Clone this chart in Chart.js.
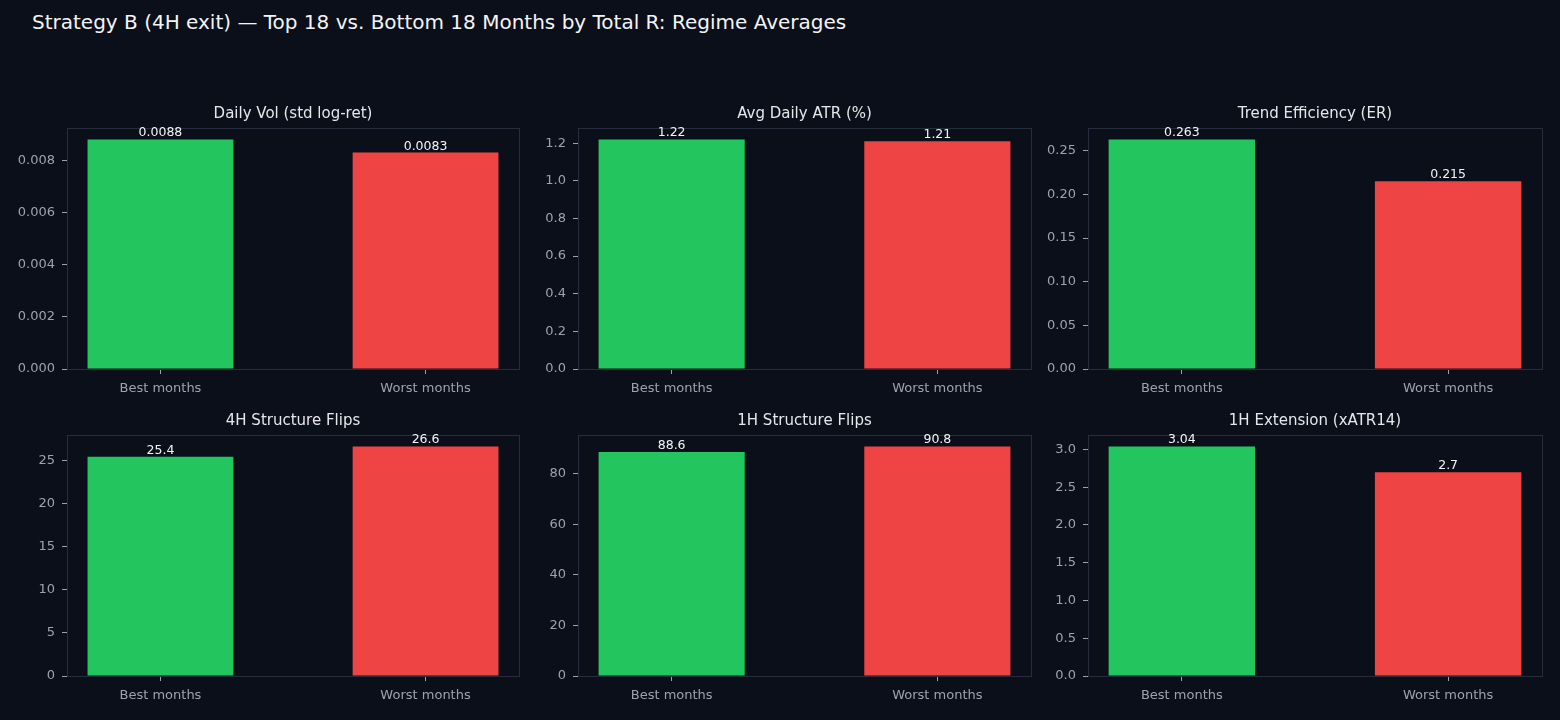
<!DOCTYPE html>
<html>
<head>
<meta charset="utf-8">
<script src="https://cdn.jsdelivr.net/npm/chart.js@4.4.1/dist/chart.umd.min.js"></script>
<style>
  body { margin: 0; background: #0b0f19; width: 1560px; height: 720px; overflow: hidden; position: relative; font-family: "DejaVu Sans", sans-serif; }
  #title { position: absolute; left: 32px; top: 10px; color: #f3f4f6; font-size: 20px; white-space: nowrap; }
  .panel { position: absolute; }
</style>
</head>
<body>
<div id="title">Strategy B (4H exit) — Top 18 vs. Bottom 18 Months by Total R: Regime Averages</div>
<script>
// data
const categories = ["Best months", "Worst months"]
const barColors = ["#22c55e", "#ef4444"]

const volValues = [0.0088, 0.0083]
const atrValues = [1.22, 1.21]
const erValues = [0.263, 0.215]
const flips4hValues = [25.4, 26.6]
const flips1hValues = [88.6, 90.8]
const extValues = [3.04, 2.7]

const volTicks = [0, 0.002, 0.004, 0.006, 0.008]
const atrTicks = [0, 0.2, 0.4, 0.6, 0.8, 1.0, 1.2]
const erTicks = [0, 0.05, 0.10, 0.15, 0.20, 0.25]
const flips4hTicks = [0, 5, 10, 15, 20, 25]
const flips1hTicks = [0, 20, 40, 60, 80]
const extTicks = [0, 0.5, 1.0, 1.5, 2.0, 2.5, 3.0]

const panelTitles = ["Daily Vol (std log-ret)", "Avg Daily ATR (%)", "Trend Efficiency (ER)",
    "4H Structure Flips", "1H Structure Flips", "1H Extension (xATR14)"]

Chart.defaults.font.family = '"DejaVu Sans", sans-serif'

// frame round the plot area + value labels on bars
const framePlugin = {
    id: 'frame',
    afterDatasetsDraw(chart) {
        const a = chart.chartArea, ctx = chart.ctx
        ctx.save()
        ctx.strokeStyle = '#262d3c'
        ctx.lineWidth = 1
        ctx.strokeRect(Math.round(a.left) + 0.5, Math.round(a.top) + 0.5, Math.round(a.right - a.left), Math.round(a.bottom - a.top))
        ctx.fillStyle = '#f3f4f6'
        ctx.font = '12.5px "DejaVu Sans"'
        ctx.textAlign = 'center'
        ctx.textBaseline = 'bottom'
        const meta = chart.getDatasetMeta(0)
        const vals = chart.data.datasets[0].data
        meta.data.forEach((bar, i) => {
            ctx.fillText(String(vals[i].y), bar.x, bar.y)
        })
        ctx.restore()
    }
}

function makePanel(box, title, values, ticks, decimals) {
    const [L, T, R, B] = box
    const div = document.createElement("div")
    div.className = "panel"
    div.style.left = (L - 70) + "px"
    div.style.top = (T - 40) + "px"
    const c = document.createElement("canvas")
    c.width = (R - L) + 80
    c.height = (B - T) + 70
    div.appendChild(c)
    document.body.appendChild(div)

    const ymax = Math.max(...values) * 1.05
    new Chart(c, {
        type: 'bar',
        data: {
            datasets: [{
                data: values.map((v, i) => ({ x: i, y: v })),
                backgroundColor: barColors,
                barPercentage: 0.55,
                categoryPercentage: 1
            }]
        },
        options: {
            responsive: false,
            animation: false,
            layout: { padding: { left: 0, right: 10, top: 0, bottom: 0 } },
            plugins: {
                legend: { display: false },
                tooltip: { enabled: false },
                title: {
                    display: true, text: title, color: '#e5e7eb', fullSize: false,
                    font: { size: 15, weight: 'normal' },
                    padding: { top: 17, bottom: 5 }
                }
            },
            scales: {
                x: {
                    type: 'linear', min: -0.3525, max: 1.3525, offset: false,
                    afterBuildTicks: s => { s.ticks = categories.map((_, i) => ({ value: i })) },
                    afterFit: s => { s.height = 30 },
                    ticks: { color: '#9ca3af', font: { size: 13 }, padding: 7, maxRotation: 0,
                        callback: v => categories[v] },
                    grid: { offset: false, drawOnChartArea: false, drawTicks: true, tickLength: 5, tickColor: '#9ca3af', color: '#9ca3af' },
                    border: { display: false }
                },
                y: {
                    min: 0, max: ymax,
                    afterBuildTicks: s => { s.ticks = ticks.map(v => ({ value: v })) },
                    afterFit: s => { s.width = 70 },
                    ticks: { color: '#9ca3af', font: { size: 13 }, padding: 7,
                        callback: v => v.toFixed(decimals) },
                    grid: { drawOnChartArea: false, drawTicks: true, tickLength: 5, tickColor: '#9ca3af', color: '#9ca3af' },
                    border: { display: false }
                }
            }
        },
        plugins: [framePlugin]
    })
}

makePanel([67, 128, 519, 369], panelTitles[0], volValues, volTicks, 3)
makePanel([578, 128, 1031, 369], panelTitles[1], atrValues, atrTicks, 1)
makePanel([1088, 128, 1542, 369], panelTitles[2], erValues, erTicks, 2)
makePanel([67, 435, 519, 676], panelTitles[3], flips4hValues, flips4hTicks, 0)
makePanel([578, 435, 1031, 676], panelTitles[4], flips1hValues, flips1hTicks, 0)
makePanel([1088, 435, 1542, 676], panelTitles[5], extValues, extTicks, 1)
</script>
</body>
</html>
